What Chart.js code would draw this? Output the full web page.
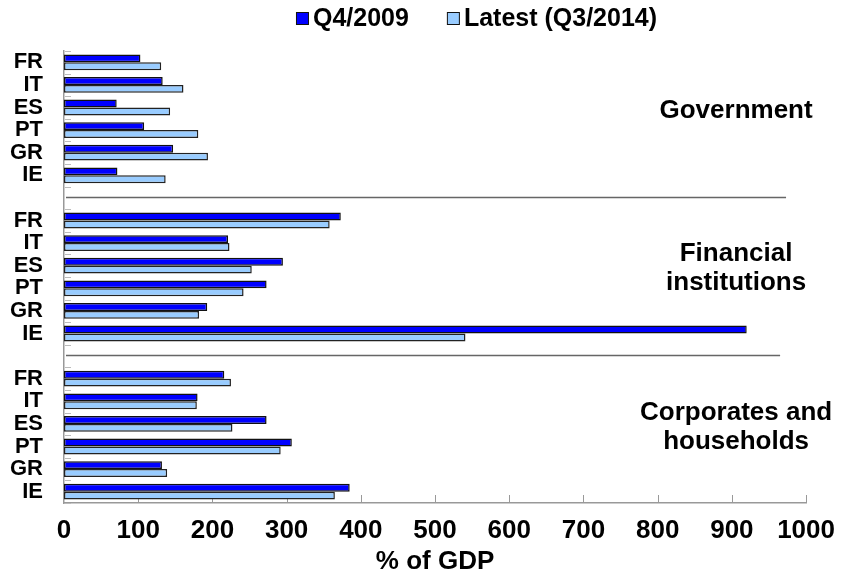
<!DOCTYPE html>
<html><head><meta charset="utf-8">
<script src="https://cdn.jsdelivr.net/npm/chart.js@4"></script>
<style>html,body{margin:0;padding:0;background:#fff;}#wrap{width:847px;height:579px;}</style>
</head><body><div id="wrap"><canvas id="c" width="847" height="579"></canvas></div>
<script>
// ---- data ----
const categories = ['FR','IT','ES','PT','GR','IE','','FR','IT','ES','PT','GR','IE','','FR','IT','ES','PT','GR','IE'];
const q4_2009 = [103,133,71,108,147,72,null,373,221,295,273,193,920,null,216,180,273,307,132,385];
const latest  = [131,161,143,181,194,137,null,358,223,253,242,182,541,null,225,179,227,292,139,365];
const seriesNames = ['Q4/2009','Latest (Q3/2014)'];
const xTickValues = [0,100,200,300,400,500,600,700,800,900,1000];
const sectorNames = [['Government'],['Financial','institutions'],['Corporates and','households']];
const sectorRows = [2, 9, 16];
const separatorRows = [6, 13];
const separatorEnds = [973, 965];
const xTitle = '% of GDP';

const FONT = '"Liberation Sans", Arial, sans-serif';
const DARK = '#0000FF', LIGHT = '#99CCFF', EDGE = '#111111', AXIS = '#999999';

const decor = {
  id: 'decor',
  beforeDatasetsDraw(chart) {
    const {ctx, chartArea: a, scales: {x, y}} = chart;
    ctx.save();
    ctx.strokeStyle = '#bbbbbb'; ctx.lineWidth = 1;
    for (let i = -1; i < categories.length; i++) {
      const py = Math.round((y.getPixelForValue(i) + y.getPixelForValue(i + 1)) / 2) + 0.5;
      ctx.beginPath(); ctx.moveTo(a.left + 1, py); ctx.lineTo(a.left + 7, py); ctx.stroke();
    }
    ctx.strokeStyle = AXIS;
    xTickValues.forEach(v => {
      if (v === 0) return;
      const px = Math.round(x.getPixelForValue(v)) + 0.5;
      ctx.beginPath(); ctx.moveTo(px, a.bottom); ctx.lineTo(px, a.bottom - 8); ctx.stroke();
    });
    ctx.restore();
  },
  afterDatasetsDraw(chart) {
    const {ctx, chartArea: a, scales: {x, y}} = chart;
    ctx.save();
    // separators
    ctx.strokeStyle = '#666666'; ctx.lineWidth = 1.5;
    separatorRows.forEach((r, i) => {
      const py = Math.round(y.getPixelForValue(r)) - 0.5;
      ctx.beginPath(); ctx.moveTo(a.left + 2, py); ctx.lineTo(x.getPixelForValue(separatorEnds[i]), py); ctx.stroke();
    });
    // sector labels
    ctx.fillStyle = '#000'; ctx.font = 'bold 26px ' + FONT;
    ctx.textAlign = 'center'; ctx.textBaseline = 'middle';
    sectorNames.forEach((lines, i) => {
      const cy = y.getPixelForValue(sectorRows[i]) + 3;
      const lh = 29;
      lines.forEach((t, j) => {
        ctx.fillText(t, a.right - 70, cy + (j - (lines.length - 1) / 2) * lh);
      });
    });
    // legend
    ctx.font = 'bold 25px ' + FONT;
    ctx.textAlign = 'left';
    const colors = [DARK, LIGHT];
    const widths = seriesNames.map(s => ctx.measureText(s).width);
    const box = 12, gap = 5, spacing = 38;
    const total = widths.reduce((s, w) => s + box + gap + w, 0) + spacing * (seriesNames.length - 1);
    let lx = chart.width / 2 + 53 - total / 2;
    const ly = 18;
    seriesNames.forEach((s, i) => {
      ctx.fillStyle = colors[i];
      ctx.fillRect(lx + 0.5, ly - 6 + 0.5, box, box);
      ctx.strokeStyle = EDGE; ctx.lineWidth = 1;
      ctx.strokeRect(lx + 0.5, ly - 6 + 0.5, box, box);
      ctx.fillStyle = '#000';
      ctx.fillText(s, lx + box + gap, ly + 1);
      lx += box + gap + widths[i] + spacing;
    });
    ctx.restore();
  }
};

new Chart(document.getElementById('c'), {
  type: 'bar',
  data: {
    labels: categories,
    datasets: [
      {label: seriesNames[0], data: q4_2009, backgroundColor: DARK, borderColor: EDGE, borderWidth: 1.5, borderSkipped: false},
      {label: seriesNames[1], data: latest, backgroundColor: LIGHT, borderColor: '#222222', borderWidth: 1.5, borderSkipped: false}
    ]
  },
  options: {
    indexAxis: 'y',
    responsive: false,
    animation: false,
    datasets: {bar: {categoryPercentage: 0.7, barPercentage: 1.0}},
    layout: {padding: {top: 51, right: 37, left: 0, bottom: 0}},
    plugins: {legend: {display: false}, tooltip: {enabled: false}},
    scales: {
      x: {
        min: 0, max: 1000,
        afterBuildTicks(s) { s.ticks = xTickValues.map(v => ({value: v})); },
        ticks: {font: {family: FONT, size: 26, weight: 'bold'}, color: '#000', padding: 12, maxRotation: 0,
                callback: v => String(v)},
        grid: {display: false, drawTicks: false},
        border: {display: true, color: AXIS, width: 1.5},
        title: {display: true, text: xTitle, color: '#000', font: {family: FONT, size: 26, weight: 'bold'}, padding: {top: 0, bottom: 2}},
        afterFit(s) { s.height = 76; }
      },
      y: {
        type: 'category', offset: true,
        ticks: {font: {family: FONT, size: 22, weight: 'bold'}, color: '#000', padding: 21, autoSkip: false},
        grid: {display: false, drawTicks: false},
        border: {display: true, color: AXIS, width: 1.5},
        afterFit(s) { s.width = 64; }
      }
    }
  },
  plugins: [decor]
});
</script>
</body></html>
